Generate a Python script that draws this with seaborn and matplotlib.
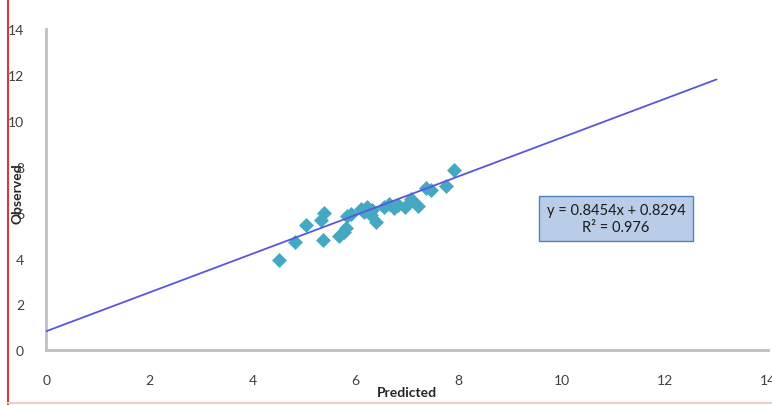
import numpy as np
import pandas as pd
import matplotlib.pyplot as plt
import seaborn as sns
from matplotlib.lines import Line2D

# values
predicted = [4.52, 4.83, 5.04, 5.37, 5.33, 5.39, 5.68, 5.77, 5.81, 5.83, 6.16, 6.22,
             6.29, 6.39, 6.31, 6.54, 6.64, 6.74, 6.83, 6.95, 7.08, 7.20, 7.36, 7.47,
             7.76, 7.90, 6.10, 5.90]
observed = [3.93, 4.72, 5.46, 4.80, 5.68, 5.98, 4.98, 5.15, 5.33, 5.85, 6.03, 6.24,
            5.90, 5.59, 6.11, 6.24, 6.38, 6.20, 6.33, 6.24, 6.59, 6.29, 7.07, 6.99,
            7.16, 7.86, 6.15, 5.95]
slope = 0.8454
intercept = 0.8294
r2 = 0.976
trend_x = [0, 13]
ticks = [0, 2, 4, 6, 8, 10, 12, 14]

df = pd.DataFrame({"Predicted": predicted, "Observed": observed})

sns.set_style("white")
plt.rcParams['font.family'] = ['Lato', 'DejaVu Sans']

fig = plt.figure(figsize=(7.72, 4.06), dpi=100)
ax = fig.add_axes([0.06, 0.135, 0.935, 0.79])

sns.scatterplot(data=df, x="Predicted", y="Observed", marker="D", s=50,
                color="#45a8c2", edgecolor="#45a8c2", linewidth=0.5, ax=ax, zorder=2)

tx = np.array(trend_x)
ax.plot(tx, slope * tx + intercept, color="#5a55e0", lw=1.3, zorder=3)

ax.set_xlim(0, 14)
ax.set_ylim(0, 14)
ax.set_xticks(ticks)
ax.set_yticks(ticks)
ax.tick_params(axis="both", length=0, labelsize=10, labelcolor="#404040")
ax.tick_params(axis="x", pad=17)
ax.tick_params(axis="y", pad=16)

ax.set_xlabel("Predicted", fontsize=10, fontweight="bold", labelpad=0)
ax.set_ylabel("Observed", fontsize=10, fontweight="bold")
ax.yaxis.set_label_coords(-0.032, 0.49)

for side in ["top", "right"]:
    ax.spines[side].set_visible(False)
for side in ["left", "bottom"]:
    ax.spines[side].set_color("#c0c0c0")
    ax.spines[side].set_linewidth(2)

ax.text(11.05, 5.75, f"y = {slope}x + {intercept}\nR² = {r2}", ha="center", va="center",
        fontsize=10.5, linespacing=1.25, color="#1a1a1a",
        bbox=dict(boxstyle="square,pad=0.5", facecolor="#b9cde8", edgecolor="#4f81bd", lw=1))

# frame edges seen in the screenshot
fig.add_artist(Line2D([0.011, 0.011], [0.0, 1.0], color="#d9383a", lw=1.5,
                      transform=fig.transFigure))
fig.add_artist(Line2D([0.011, 1.0], [0.006, 0.006], color="#f4c9c9", lw=1.5,
                      transform=fig.transFigure))

fig.savefig("out.png", dpi=100)
